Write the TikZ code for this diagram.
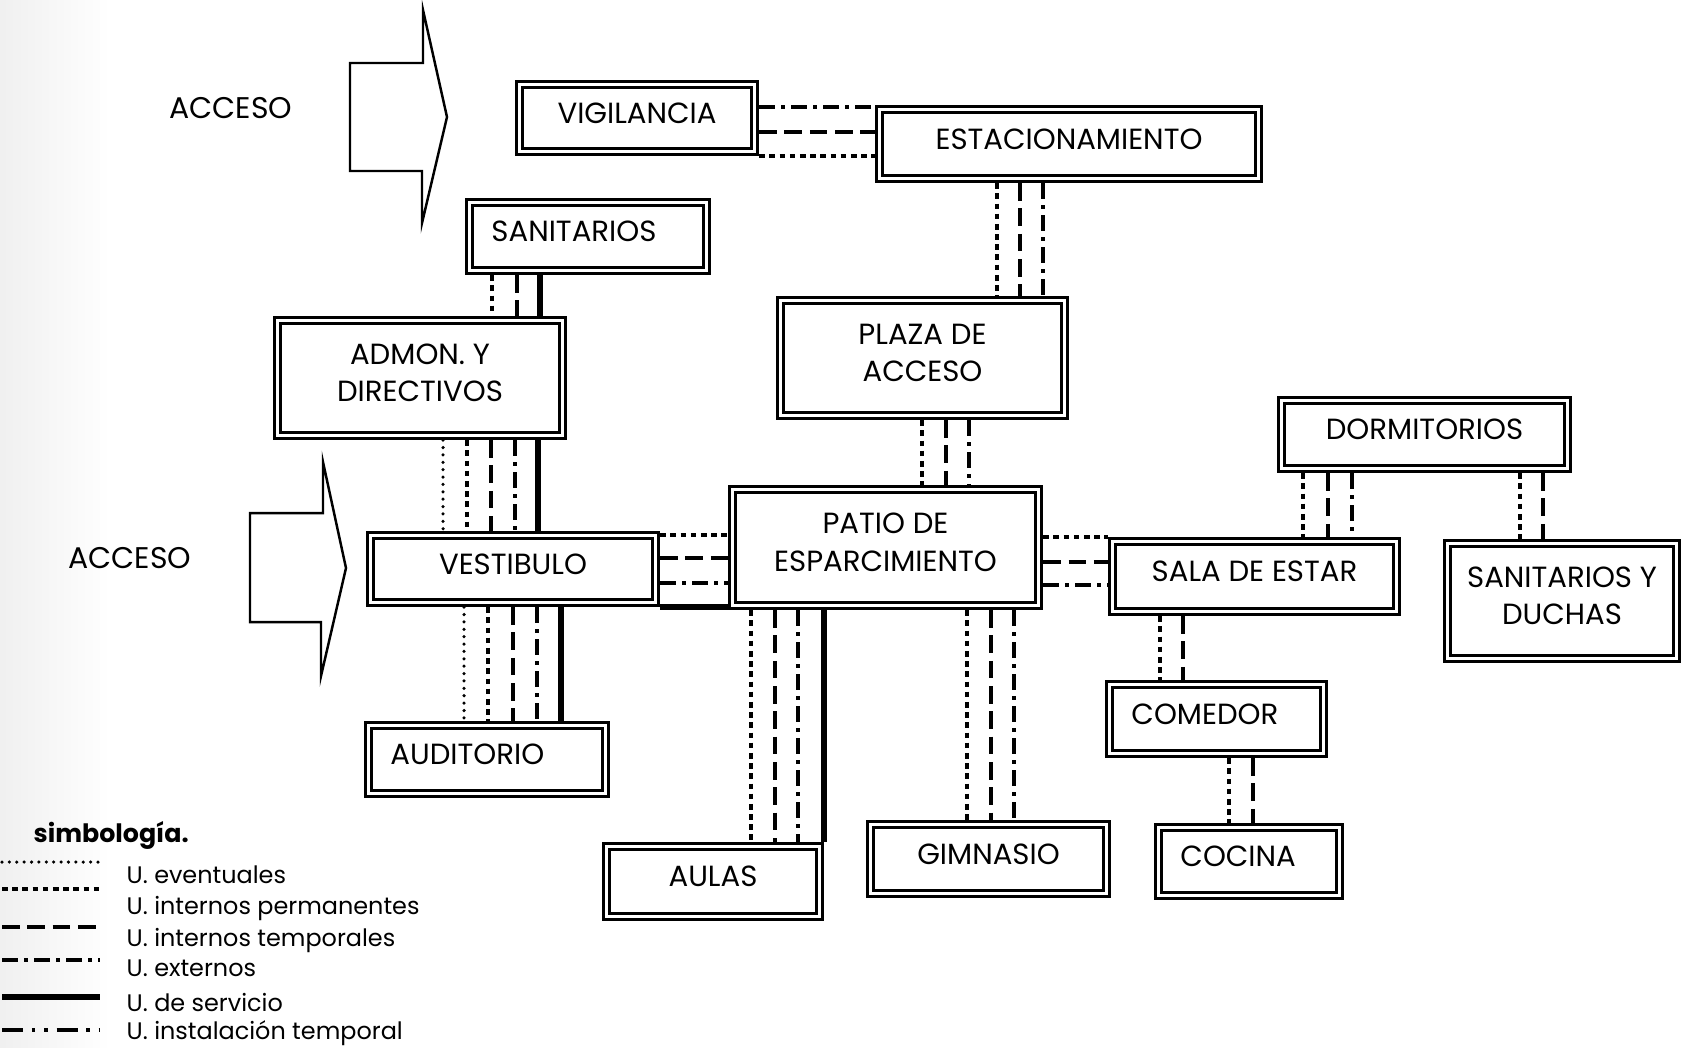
\documentclass[tikz,border=0pt]{standalone}
\usepackage{fontspec}
\setmainfont{Poppins}

\begin{document}
\begin{tikzpicture}[
    x=0.01cm, y=-0.01cm,
    box/.style={draw, double, double distance=1pt, line width=0.8pt,
                inner sep=0pt, outer sep=1.3pt, align=center, text depth=0.55ex,
                font=\fontsize{8.3}{10.6}\selectfont},
    lbox/.style={box, align=left, inner xsep=0.22cm},
    event/.style={line width=1pt, line cap=round, dash pattern=on 0pt off 2.1pt},
    perm/.style={line width=1.35pt, dash pattern=on 1.6pt off 1.3pt},
    temp/.style={line width=1.2pt, dash pattern=on 5pt off 2.2pt},
    ext/.style={line width=1pt, dash pattern=on 4.5pt off 1.8pt on 1pt off 1.8pt},
    serv/.style={line width=1.6pt},
    inst/.style={line width=1.3pt, dash pattern=on 6pt off 2.5pt on 1pt off 2.5pt on 1pt off 2.5pt},
    access/.style={line width=0.7pt, line join=miter},
    tag/.style={font=\fontsize{8.5}{10}\selectfont},
    legtext/.style={anchor=west, inner sep=0pt, font=\fontsize{6.8}{8}\selectfont},
  ]
  \useasboundingbox (0,0) rectangle (1683,1047);
  \shade[left color=gray!12, right color=white] (0,0) rectangle (110,1047);

  % Accesos
  \draw[access] (350,63) -- (423,63) -- (423,10) -- (447,117) -- (422,223) -- (422,171) -- (350,171) -- cycle;
  \node[tag] (acc1) at (231,108) {ACCESO};
  \draw[access] (250,513) -- (323,513) -- (323,462) -- (346,568) -- (321,676) -- (321,622) -- (250,622) -- cycle;
  \node[tag] (acc2) at (130,558) {ACCESO};

  % Zona de acceso
  \node[box, minimum width=2.35cm, minimum height=0.67cm] (vig) at (637,118) {VIGILANCIA};
  \node[box, minimum width=3.79cm, minimum height=0.69cm] (est) at (1069,144) {ESTACIONAMIENTO};
  \node[lbox, text width=1.93cm, minimum height=0.68cm] (sani) at (588,236.5) {SANITARIOS};
  \node[box, minimum width=2.85cm, minimum height=1.15cm] (admon) at (420,378) {ADMON. Y\\DIRECTIVOS};
  \node[box, minimum width=2.84cm, minimum height=1.15cm] (plaza) at (922.5,358) {PLAZA DE\\ACCESO};

  % Zona central
  \node[box, minimum width=2.85cm, minimum height=0.67cm] (vest) at (513,569) {VESTIBULO};
  \node[box, minimum width=3.06cm, minimum height=1.16cm] (patio) at (885.5,547.5) {PATIO DE\\ESPARCIMIENTO};
  \node[lbox, text width=1.93cm, minimum height=0.68cm] (aud) at (487,759.5) {AUDITORIO};
  \node[box, minimum width=2.13cm, minimum height=0.70cm] (aulas) at (713,881.5) {AULAS};
  \node[box, minimum width=2.36cm, minimum height=0.69cm] (gim) at (988.5,859) {GIMNASIO};

  % Zona de estancia
  \node[box, minimum width=2.86cm, minimum height=0.68cm] (dorm) at (1424.5,434.5) {DORMITORIOS};
  \node[box, minimum width=2.84cm, minimum height=0.70cm] (sala) at (1254.5,576.5) {SALA DE ESTAR};
  \node[box, minimum width=2.29cm, minimum height=1.15cm] (sanid) at (1562,601) {SANITARIOS Y\\DUCHAS};
  \node[lbox, text width=1.70cm, minimum height=0.69cm] (com) at (1216.5,719) {COMEDOR};
  \node[lbox, text width=1.37cm, minimum height=0.68cm] (coc) at (1249,861.5) {COCINA};

  % Vigilancia - estacionamiento
  \draw[ext]  (vig.east |- 0,107) -- (est.west |- 0,107);
  \draw[temp] (vig.east |- 0,132) -- (est.west |- 0,132);
  \draw[perm] (vig.east |- 0,156) -- (est.west |- 0,156);

  % Estacionamiento - plaza - patio
  \draw[perm] (est.south -| 997,0) -- (plaza.north -| 997,0);
  \draw[temp] (est.south -| 1020,0) -- (plaza.north -| 1020,0);
  \draw[ext]  (est.south -| 1043,0) -- (plaza.north -| 1043,0);
  \draw[perm] (plaza.south -| 922,0) -- (patio.north -| 922,0);
  \draw[temp] (plaza.south -| 946,0) -- (patio.north -| 946,0);
  \draw[ext]  (plaza.south -| 969,0) -- (patio.north -| 969,0);

  % Sanitarios - admon - vestibulo - auditorio
  \draw[perm] (sani.south -| 492,0) -- (admon.north -| 492,0);
  \draw[temp] (sani.south -| 517,0) -- (admon.north -| 517,0);
  \draw[serv] (sani.south -| 540,0) -- (admon.north -| 540,0);
  \draw[event] (admon.south -| 443,0) -- (vest.north -| 443,0);
  \draw[perm]  (admon.south -| 467,0) -- (vest.north -| 467,0);
  \draw[temp]  (admon.south -| 491,0) -- (vest.north -| 491,0);
  \draw[ext]   (admon.south -| 515,0) -- (vest.north -| 515,0);
  \draw[serv]  (admon.south -| 538,0) -- (vest.north -| 538,0);
  \draw[event] (vest.south -| 464,0) -- (aud.north -| 464,0);
  \draw[perm]  (vest.south -| 488,0) -- (aud.north -| 488,0);
  \draw[temp]  (vest.south -| 513,0) -- (aud.north -| 513,0);
  \draw[ext]   (vest.south -| 537,0) -- (aud.north -| 537,0);
  \draw[serv]  (vest.south -| 561,0) -- (aud.north -| 561,0);

  % Vestibulo - patio
  \draw[perm] (vest.east |- 0,535) -- (patio.west |- 0,535);
  \draw[temp] (vest.east |- 0,558) -- (patio.west |- 0,558);
  \draw[ext]  (vest.east |- 0,583) -- (patio.west |- 0,583);
  \draw[serv] (vest.east |- 0,607) -- (patio.west |- 0,607);

  % Patio - aulas - gimnasio
  \draw[perm] (patio.south -| 751,0) -- (aulas.north -| 751,0);
  \draw[temp] (patio.south -| 775,0) -- (aulas.north -| 775,0);
  \draw[ext]  (patio.south -| 798,0) -- (aulas.north -| 798,0);
  \draw[serv] (patio.south -| 824,0) -- (aulas.north -| 824,0);
  \draw[perm] (patio.south -| 967,0) -- (gim.north -| 967,0);
  \draw[temp] (patio.south -| 991,0) -- (gim.north -| 991,0);
  \draw[ext]  (patio.south -| 1014,0) -- (gim.north -| 1014,0);

  % Patio - sala de estar
  \draw[perm] (patio.east |- 0,537) -- (sala.west |- 0,537);
  \draw[temp] (patio.east |- 0,562) -- (sala.west |- 0,562);
  \draw[ext]  (patio.east |- 0,585) -- (sala.west |- 0,585);

  % Dormitorios - sala - sanitarios
  \draw[perm] (dorm.south -| 1303,0) -- (sala.north -| 1303,0);
  \draw[temp] (dorm.south -| 1328,0) -- (sala.north -| 1328,0);
  \draw[ext]  (dorm.south -| 1352,0) -- (sala.north -| 1352,0);
  \draw[perm] (dorm.south -| 1520,0) -- (sanid.north -| 1520,0);
  \draw[temp] (dorm.south -| 1543,0) -- (sanid.north -| 1543,0);

  % Sala - comedor - cocina
  \draw[perm] (sala.south -| 1160,0) -- (com.north -| 1160,0);
  \draw[temp] (sala.south -| 1183,0) -- (com.north -| 1183,0);
  \draw[perm] (com.south -| 1229,0) -- (coc.north -| 1229,0);
  \draw[temp] (com.south -| 1253,0) -- (coc.north -| 1253,0);

  % Simbologia
  \node[legtext, font=\fontsize{7.2}{9}\selectfont\bfseries] (simb) at (33,835) {simbología.};
  \draw[event] (2,862) -- (100,862);
  \node[legtext] (lev) at (126,875) {U. eventuales};
  \draw[perm] (2,889) -- (100,889);
  \node[legtext] (lpe) at (126,908) {U. internos permanentes};
  \draw[temp] (2,927) -- (100,927);
  \node[legtext] (lte) at (126,940) {U. internos temporales};
  \draw[ext] (2,960) -- (100,960);
  \node[legtext] (lex) at (126,968) {U. externos};
  \draw[serv] (2,997) -- (100,997);
  \node[legtext] (lse) at (126,1002) {U. de servicio};
  \draw[inst] (2,1030) -- (100,1030);
  \node[legtext] (lin) at (126,1033) {U. instalación temporal};

\end{tikzpicture}
\end{document}
